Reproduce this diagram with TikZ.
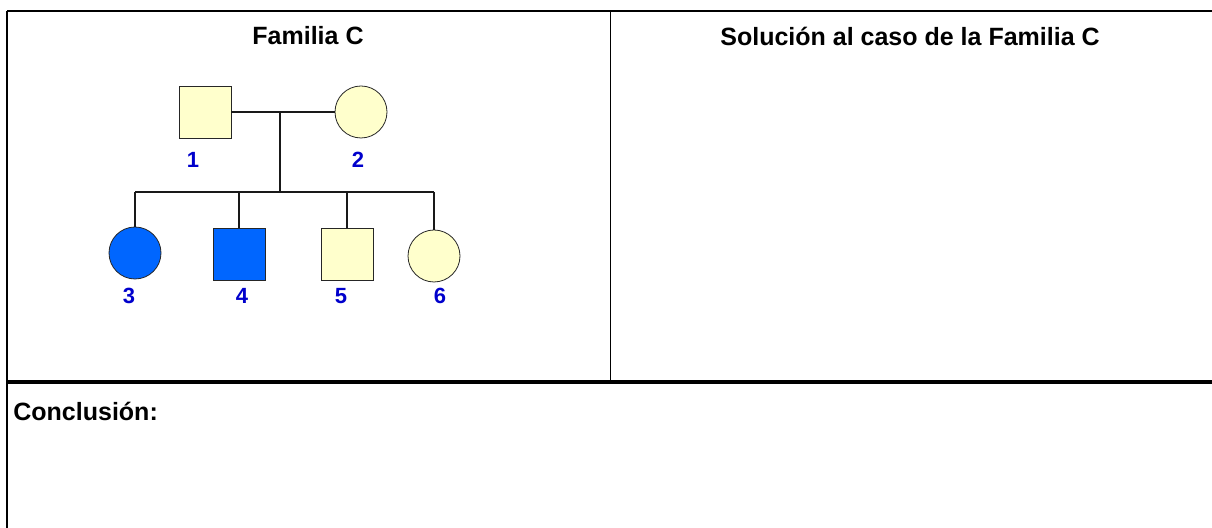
\documentclass[tikz,border=0pt]{standalone}
\usepackage{fontspec}
\setmainfont{Liberation Sans}
\usepackage{xcolor}
\usetikzlibrary{positioning}

\definecolor{pedyellow}{HTML}{FFFFCC}
\definecolor{pedblue}{HTML}{0066FF}
\definecolor{idblue}{HTML}{0000CC}

\tikzset{
	male/.style    = {rectangle, draw=black!85, minimum size=26pt, inner sep=0pt},
	female/.style  = {circle, draw=black!85, minimum size=26pt, inner sep=0pt},
	healthy/.style = {fill=pedyellow},
	affected/.style= {fill=pedblue},
	idlabel/.style = {text=idblue, font=\bfseries\fontsize{11}{13}\selectfont},
	heading/.style = {font=\bfseries\fontsize{12.5}{15}\selectfont},
	link/.style    = {draw=black!90, line width=0.7pt},
}

\begin{document}
\begin{tikzpicture}[x=0.5pt,y=-0.5pt]
\useasboundingbox (0,0) rectangle (1212,528);

% table frame
\draw[line width=1pt] (7,11) -- (1212,11);
\draw[line width=0.8pt] (7,11) -- (7,528);
\draw[line width=0.5pt] (610,11) -- (610,382);
\draw[line width=1.8pt] (7,382) -- (1212,382);

% headings
\node[heading] (titleA) at (308,36) {Familia C};
\node[heading] (titleB) at (910,36) {Solución al caso de la Familia C};
\node[heading,anchor=west,inner sep=0pt] (concl) at (13,411) {Conclusión:};

% parents
\node[male,healthy]   (p1) at (205,112) {};
\node[female,healthy] (p2) at (361,112) {};

% children
\node[female,affected] (c3) at (135,253) {};
\node[male,affected]   (c4) at (239,254) {};
\node[male,healthy]    (c5) at (347,254) {};
\node[female,healthy]  (c6) at (434,256) {};

% numbers
\node[idlabel] (l1) at (193,160) {1};
\node[idlabel] (l2) at (358,160) {2};
\node[idlabel] (l3) at (129,296) {3};
\node[idlabel] (l4) at (242,296) {4};
\node[idlabel] (l5) at (341,296) {5};
\node[idlabel] (l6) at (440,296) {6};

% mating and sibship lines
\coordinate (mate) at (280,112);
\coordinate (sib)  at (280,192);
\draw[link] (p1.east) -- (p2.west);
\draw[link] (mate) -- (sib);
\draw[link] (c3.north |- sib) -- (c6.north |- sib);
\foreach \c in {c3,c4,c5,c6}
	\draw[link] (\c.north |- sib) -- (\c.north);
\end{tikzpicture}
\end{document}
